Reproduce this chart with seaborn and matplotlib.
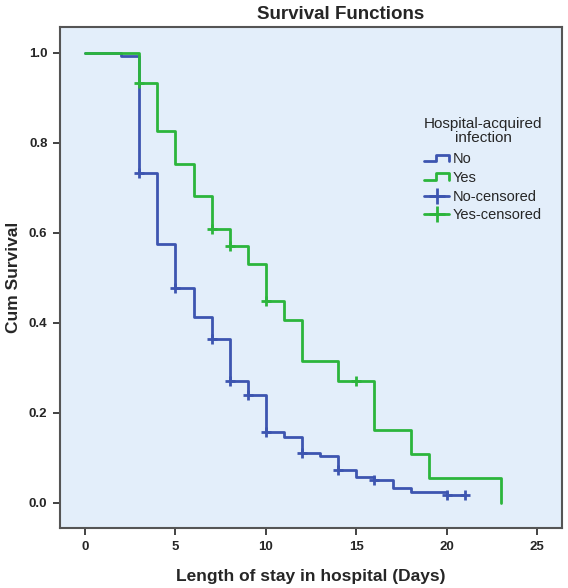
import matplotlib
matplotlib.use("Agg")
import matplotlib.pyplot as plt
import seaborn as sns
import pandas as pd
from matplotlib.lines import Line2D
from matplotlib.legend_handler import HandlerBase

# Kaplan-Meier estimates
no_time = [0, 2, 3, 4, 5, 6, 7, 8, 9, 10, 11, 12, 13, 14, 15, 16, 17, 18, 20, 21]
no_surv = [1.0, 0.993, 0.733, 0.575, 0.478, 0.412, 0.364, 0.270, 0.240, 0.158,
           0.147, 0.110, 0.103, 0.072, 0.057, 0.050, 0.034, 0.024, 0.017, 0.017]
no_cens_time = [3, 5, 7, 8, 9, 10, 12, 14, 16, 20, 21]
no_cens_surv = [0.733, 0.478, 0.364, 0.270, 0.240, 0.158, 0.110, 0.072, 0.050, 0.017, 0.017]

yes_time = [0, 3, 4, 5, 6, 7, 8, 9, 10, 11, 12, 14, 16, 18, 19, 23]
yes_surv = [1.0, 0.933, 0.826, 0.753, 0.681, 0.609, 0.571, 0.531, 0.449, 0.406,
            0.316, 0.270, 0.162, 0.109, 0.055, 0.0]
yes_cens_time = [3, 7, 8, 10, 15]
yes_cens_surv = [0.933, 0.609, 0.571, 0.449, 0.270]

x_ticks = [0, 5, 10, 15, 20, 25]
y_ticks = [0.0, 0.2, 0.4, 0.6, 0.8, 1.0]

BLUE = "#3d55b0"
GREEN = "#2cb53c"


class StepHandler(HandlerBase):
    # little step glyph like SPSS uses in the legend
    def create_artists(self, legend, orig_handle, xd, yd, w, h, fontsize, trans):
        xs = [xd, xd + 0.45 * w, xd + 0.45 * w, xd + w, xd + w]
        ys = [yd + 0.2 * h, yd + 0.2 * h, yd + 0.85 * h, yd + 0.85 * h, yd + 0.2 * h]
        ln = Line2D(xs, ys, color=orig_handle.get_color(), lw=orig_handle.get_linewidth(),
                    transform=trans)
        return [ln]


sns.set_style("white")
plt.rcParams["font.family"] = ["Liberation Sans", "DejaVu Sans"]

df_no = pd.DataFrame({"t": no_time, "s": no_surv})
df_yes = pd.DataFrame({"t": yes_time, "s": yes_surv})

fig = plt.figure(figsize=(5.68, 5.88), dpi=100)
ax = fig.add_axes([0.1056, 0.102, 0.8834, 0.852])
ax.set_facecolor("#e3eefa")

sns.lineplot(data=df_no, x="t", y="s", ax=ax, color=BLUE, lw=2, drawstyle="steps-post",
             estimator=None, sort=False)
sns.lineplot(data=df_yes, x="t", y="s", ax=ax, color=GREEN, lw=2, drawstyle="steps-post",
             estimator=None, sort=False)
ax.plot(no_cens_time, no_cens_surv, ls="none", marker="+", ms=7, mew=2, color=BLUE)
ax.plot(yes_cens_time, yes_cens_surv, ls="none", marker="+", ms=7, mew=2, color=GREEN)

ax.set_xlim(-1.38, 26.35)
ax.set_ylim(-0.056, 1.057)
ax.set_xticks(x_ticks)
ax.set_yticks(y_ticks)
ax.set_xticklabels([str(v) for v in x_ticks], fontweight="bold", fontsize=9.5)
ax.set_yticklabels([f"{v:.1f}" for v in y_ticks], fontweight="bold", fontsize=9.5)
ax.tick_params(direction="out", length=5, width=1.2, color="#222222", pad=4,
               left=True, bottom=True)

for side, sp in ax.spines.items():
    sp.set_color("#555555")
    sp.set_linewidth(1.5)

ax.set_xlabel("Length of stay in hospital (Days)", fontsize=12.5, fontweight="bold", labelpad=12)
ax.set_ylabel("Cum Survival", fontsize=12.5, fontweight="bold", labelpad=6)
fig.text(0.599, 0.976, "Survival Functions", ha="center", va="center",
         fontsize=13.5, fontweight="bold")

h_no = Line2D([], [], color=BLUE, lw=2)
h_yes = Line2D([], [], color=GREEN, lw=2)
h_nc = Line2D([], [], color=BLUE, lw=2, marker="+", ms=11, mew=2)
h_yc = Line2D([], [], color=GREEN, lw=2, marker="+", ms=11, mew=2)
leg = ax.legend([h_no, h_yes, h_nc, h_yc], ["No", "Yes", "No-censored", "Yes-censored"],
                title="Hospital-acquired\ninfection", loc="upper left",
                bbox_to_anchor=(0.705, 0.84), frameon=False, fontsize=10.5,
                title_fontsize=11, handlelength=1.7, handletextpad=0.25,
                labelspacing=0.32, borderpad=0.2,
                handler_map={h_no: StepHandler(), h_yes: StepHandler()})
leg.get_title().set_multialignment("center")
leg.get_title().set_linespacing(1.0)
leg._legend_box.sep = 5

fig.savefig("out.png", dpi=100)
